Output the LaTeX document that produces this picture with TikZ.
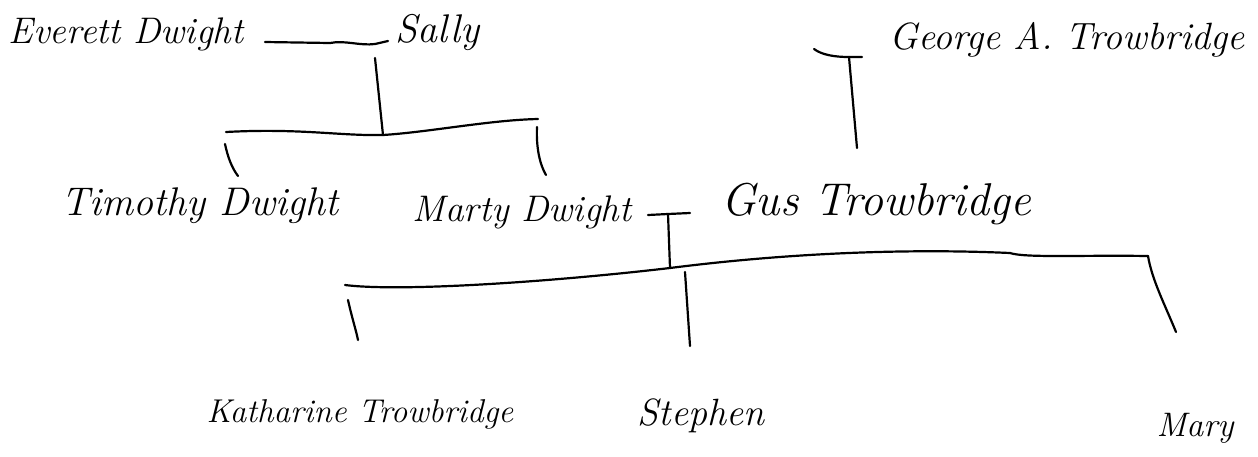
\documentclass[tikz,border=0pt]{standalone}
\usetikzlibrary{calc}
\tikzset{
  person/.style={inner sep=0pt, font=\itshape\fontsize{#1}{#1}\selectfont},
  pen/.style={line width=2.2pt, line cap=round, line join=round},
}
\begin{document}
\begin{tikzpicture}[x=1pt,y=-1pt]
\useasboundingbox (0,0) rectangle (1258,456);
% people
\node[person=37] (everett) at (126,34) {Everett Dwight};
\node[person=40] (sally) at (437,32) {Sally};
\node[person=38] (george) at (1067,40) {George A. Trowbridge};
\node[person=40] (timothy) at (200,206) {Timothy Dwight};
\node[person=37] (marty) at (522,212) {Marty Dwight};
\node[person=46] (gus) at (876,204) {Gus Trowbridge};
\node[person=33] (katharine) at (360,414) {Katharine Trowbridge};
\node[person=38] (stephen) at (701,416) {Stephen};
\node[person=34] (mary) at (1195,428) {Mary};
% couple 1
\coordinate (m1) at (375,44);
\draw[pen] (265,42) coordinate (e1) -- (330,43) .. controls (345,40) and (360,46) .. (m1) -- (388,41) coordinate (s1);
\coordinate (b1) at (383,135);
\draw[pen] (375,58) -- (b1);
\coordinate (b1l) at (226,132);
\coordinate (b1r) at (538,119);
\draw[pen] (b1l) .. controls (300,128) and (340,136) .. (b1) .. controls (430,132) and (490,120) .. (b1r);
\draw[pen] ($(b1l)+(-1,12)$) .. controls (228,158) and (232,168) .. (238,176);
\draw[pen] ($(b1r)+(-1,8)$) .. controls (536,148) and (540,165) .. (546,175);
% George T
\coordinate (g1) at (849,57);
\draw[pen] (814,49) .. controls (822,55) and (835,57) .. (g1) -- (862,57);
\draw[pen] (g1) -- (857,148);
% couple 2
\coordinate (m2) at (668,214);
\draw[pen] (648,215) -- (m2) -- (690,213);
\coordinate (b2) at (670,268);
\draw[pen] (m2) -- (b2);
\coordinate (b2l) at (345,285);
\coordinate (b2r) at (1148,256);
\draw[pen] (b2l) .. controls (400,292) and (550,282) .. (b2)
  .. controls (780,254) and (900,248) .. (1010,253)
  .. controls (1025,258) and (1080,255) .. (b2r);
\draw[pen] (348,300) .. controls (352,318) and (356,330) .. (358,340);
\draw[pen] (685,272) -- (690,346);
\draw[pen] (b2r) .. controls (1152,280) and (1165,305) .. (1176,332);
\end{tikzpicture}
\end{document}
